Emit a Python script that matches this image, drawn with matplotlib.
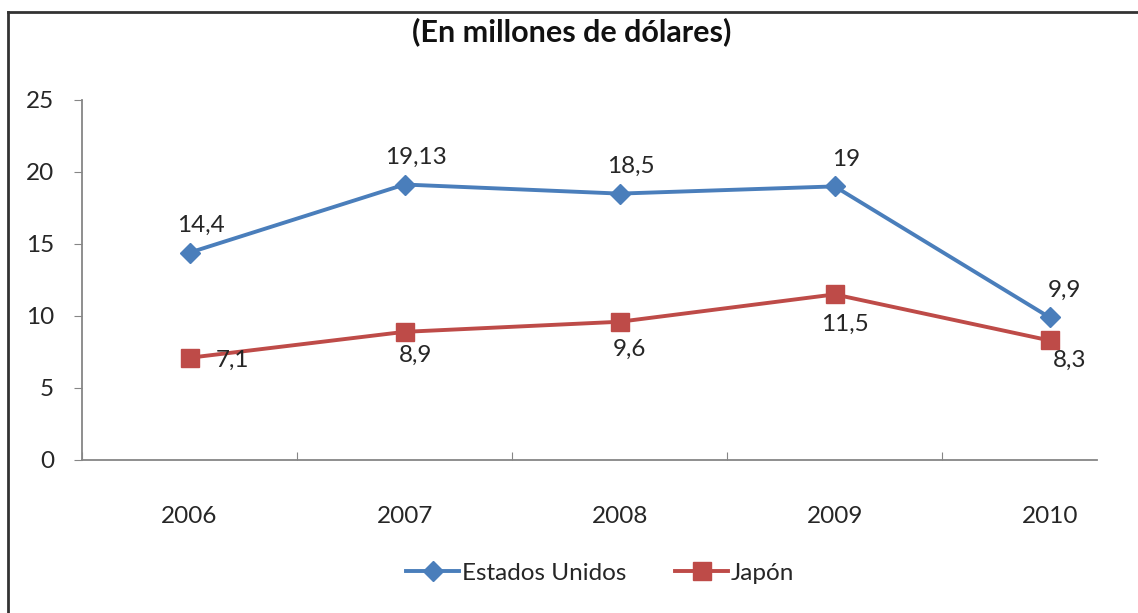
import matplotlib
matplotlib.use("Agg")
import matplotlib.pyplot as plt
from matplotlib.lines import Line2D

plt.rcParams['font.family'] = ['Lato', 'DejaVu Sans']

years = ['2006', '2007', '2008', '2009', '2010']
estados_unidos = [14.4, 19.13, 18.5, 19, 9.9]
japon = [7.1, 8.9, 9.6, 11.5, 8.3]
us_labels = ['14,4', '19,13', '18,5', '19', '9,9']
jp_labels = ['7,1', '8,9', '9,6', '11,5', '8,3']
y_ticks = [0, 5, 10, 15, 20, 25]

W, H = 1138, 613
fig = plt.figure(figsize=(W/100, H/100), dpi=100)
ax = fig.add_axes([82/W, 1-460/H, (1097-82)/W, (460-100)/H])

blue = '#4A7EBB'
red = '#BE4B48'
txt = '#262626'
fs = 17.5
x = list(range(len(years)))
ax.plot(x, estados_unidos, color=blue, lw=2.8, marker='D', ms=10,
        label='Estados Unidos', zorder=3)
ax.plot(x, japon, color=red, lw=2.8, marker='s', ms=13.5,
        label='Japón', zorder=3)

for i, (v, t) in enumerate(zip(estados_unidos, us_labels)):
    dx = 15 if i == 4 else 11
    ax.annotate(t, (i, v), textcoords='offset pixels', xytext=(dx, 27),
                ha='center', va='center', fontsize=fs, color=txt)
jp_off = [(43, -3), (11, -24), (10, -28), (10, -30), (20, -20)]
for i, (v, t) in enumerate(zip(japon, jp_labels)):
    ax.annotate(t, (i, v), textcoords='offset pixels', xytext=jp_off[i],
                ha='center', va='center', fontsize=fs, color=txt)

ax.set_xlim(-0.5, 4.22)
ax.set_ylim(0, 25)
ax.set_yticks(y_ticks)
ax.set_xticks([-0.5, 0.5, 1.5, 2.5, 3.5])
ax.set_xticklabels([])
ax.set_xticks(x, minor=True)
ax.set_xticklabels(years, minor=True)
ax.tick_params(axis='x', which='minor', length=0, pad=33, labelsize=fs, labelcolor=txt)
ax.tick_params(axis='x', which='major', length=6, direction='in', color='#868686')
ax.tick_params(axis='y', length=6, direction='out', color='#868686', pad=14,
               labelsize=fs, labelcolor=txt)
for s in ['top', 'right']:
    ax.spines[s].set_visible(False)
for s in ['left', 'bottom']:
    ax.spines[s].set_color('#868686')
    ax.spines[s].set_linewidth(1.3)

fig.text(572/W, 1-32/H, '(En millones de dólares)', ha='center', va='center',
         fontsize=22, fontweight='bold', color='#111111')

ax.legend(loc='center', bbox_to_anchor=(600/W, 1-573/H), bbox_transform=fig.transFigure,
          ncol=2, frameon=False, fontsize=fs, handlelength=2.2, handletextpad=0.1,
          columnspacing=2.0, labelcolor=txt)

fig.add_artist(Line2D([8/W, 1], [1-12/H, 1-12/H], color='#333333', lw=2, transform=fig.transFigure))
fig.add_artist(Line2D([8/W, 8/W], [0, 1-12/H], color='#333333', lw=2, transform=fig.transFigure))

fig.savefig('out.png', dpi=100)
